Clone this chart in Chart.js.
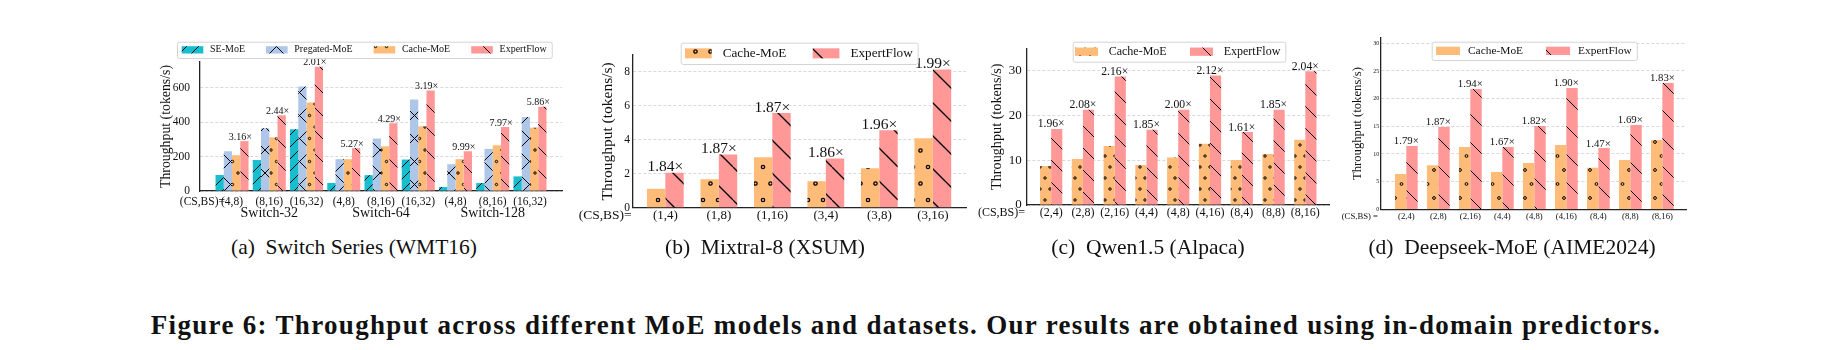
<!DOCTYPE html>
<html>
<head>
<meta charset="utf-8">
<script src="https://cdn.jsdelivr.net/npm/chart.js@4.4.1/dist/chart.umd.min.js"></script>
<style>
  body { margin: 0; background: #fff; width: 1844px; height: 350px; position: relative; overflow: hidden;
         font-family: "Liberation Serif", "Times New Roman", serif; color: #111; }
  canvas { position: absolute; }
  .sub { position: absolute; top: 237px; font-size: 21.5px; line-height: 1; white-space: pre; transform: translateX(-50%); }
  #fig { position: absolute; top: 312px; left: 906px; transform: translateX(-50%); font-weight: bold;
         font-size: 27px; line-height: 1; white-space: nowrap; }
</style>
</head>
<body>
<canvas id="chartA"></canvas>
<canvas id="chartB"></canvas>
<canvas id="chartC"></canvas>
<canvas id="chartD"></canvas>
<div class="sub" style="left:354px">(a)  Switch Series (WMT16)</div>
<div class="sub" style="left:765px">(b)  Mixtral-8 (XSUM)</div>
<div class="sub" style="left:1148px">(c)  Qwen1.5 (Alpaca)</div>
<div class="sub" style="left:1512px">(d)  Deepseek-MoE (AIME2024)</div>
<div id="fig">Figure 6: Throughput across different MoE models and datasets. Our results are obtained using in-domain predictors.</div>
<script>
// ---- data ----
const switchGroups = ['(4,8)', '(8,16)', '(16,32)', '(4,8)', '(8,16)', '(16,32)', '(4,8)', '(8,16)', '(16,32)'];
const switchModels = ['Switch-32', 'Switch-64', 'Switch-128'];
const switchSE = [93, 180, 359, 47, 92, 183, 23, 46, 85];
const switchPregated = [231, 365, 608, 185, 305, 532, 156, 245, 430];
const switchCache = [208, 312, 515, 185, 260, 376, 185, 266, 368];
const switchExpert = [290, 440, 722, 249, 394, 585, 231, 372, 490];
const switchSpeedup = ['3.16×', '2.44×', '2.01×', '5.27×', '4.29×', '3.19×', '9.99×', '7.97×', '5.86×'];

const mixtralGroups = ['(1,4)', '(1,8)', '(1,16)', '(3,4)', '(3,8)', '(3,16)'];
const mixtralCache = [1.12, 1.68, 2.98, 1.56, 2.33, 4.10];
const mixtralExpert = [2.06, 3.14, 5.58, 2.90, 4.57, 8.15];
const mixtralSpeedup = ['1.84×', '1.87×', '1.87×', '1.86×', '1.96×', '1.99×'];

const qwenGroups = ['(2,4)', '(2,8)', '(2,16)', '(4,4)', '(4,8)', '(4,16)', '(8,4)', '(8,8)', '(8,16)'];
const qwenCache = [8.73, 10.3, 13.2, 8.96, 10.6, 13.66, 10.07, 11.4, 14.55];
const qwenExpert = [17.0, 21.3, 28.7, 16.8, 21.3, 28.9, 16.3, 21.3, 29.85];
const qwenSpeedup = ['1.96×', '2.08×', '2.16×', '1.85×', '2.00×', '2.12×', '1.61×', '1.85×', '2.04×'];

const deepseekGroups = ['(2,4)', '(2,8)', '(2,16)', '(4,4)', '(4,8)', '(4,16)', '(8,4)', '(8,8)', '(8,16)'];
const deepseekCache = [6.4, 7.95, 11.27, 6.75, 8.37, 11.63, 7.53, 8.92, 12.53];
const deepseekExpert = [11.45, 14.88, 21.75, 11.27, 15.06, 21.93, 11.08, 15.24, 22.83];
const deepseekSpeedup = ['1.79×', '1.87×', '1.94×', '1.67×', '1.82×', '1.90×', '1.47×', '1.69×', '1.83×'];

const FONT = '"Liberation Serif", "Times New Roman", serif';
const INK = '#111';
const AXIS = '#222';
const C_SE = '#17becf', C_PRE = '#aec7e8', C_CACHE = '#ffbb78', C_EXPERT = '#ff9896';

// hatch pattern like matplotlib's '//', 'x', 'o', '\\'
function hatch(color, kind, p, lw) {
  const w = kind === 'o' ? Math.round(p * 0.46) : Math.round(p);
  const h = Math.round(p);
  const c = document.createElement('canvas');
  c.width = w; c.height = h;
  const g = c.getContext('2d');
  g.fillStyle = color;
  g.fillRect(0, 0, w, h);
  g.strokeStyle = '#000';
  g.lineWidth = lw;
  const line = (x1, y1, x2, y2) => { g.beginPath(); g.moveTo(x1, y1); g.lineTo(x2, y2); g.stroke(); };
  if (kind === '\\' || kind === 'x') for (const k of [-w, 0, w]) line(k, 0, k + w, h);
  if (kind === '/' || kind === 'x') for (const k of [-w, 0, w]) line(k, h, k + w, 0);
  if (kind === 'o') {
    const r = Math.max(1.2, p * 0.05);
    for (const [cx, cy] of [[0, 0], [w, 0], [0, h], [w, h], [w / 2, h / 2]]) {
      g.beginPath(); g.arc(cx, cy, r, 0, Math.PI * 2); g.stroke();
    }
  }
  return g.createPattern(c, 'repeat');
}

function makeChart(s) {
  const canvas = document.getElementById(s.id);
  const [ox, oy, cw, ch] = s.box;
  canvas.width = cw; canvas.height = ch;
  canvas.style.left = ox + 'px'; canvas.style.top = oy + 'px';
  const [aL, aT, aR, aB] = s.area;

  const datasets = s.series.map(se => ({
    label: se.label,
    data: se.values.map((v, i) => ({ x: i, y: v })),
    backgroundColor: hatch(se.color, se.hatch, se.hatch === '/' ? s.hatchP / 2 : s.hatchP, s.hatchLW),
    borderWidth: 0,
    categoryPercentage: s.groupFill,
    barPercentage: 1
  }));

  // speedup labels, (CS,BS)= prefix, model names, framed legend
  const extras = {
    id: 'extras',
    afterDatasetsDraw(chart) {
      const ctx = chart.ctx;
      const last = chart.getDatasetMeta(chart.data.datasets.length - 1);
      ctx.save();
      ctx.fillStyle = INK;
      ctx.font = `${s.label.size}px ${FONT}`;
      ctx.textAlign = 'center';
      ctx.textBaseline = 'alphabetic';
      last.data.forEach((bar, i) => {
        const { x, y, width } = bar.getProps(['x', 'y', 'width'], true);
        ctx.fillText(s.speedup[i], x - width / 2, y - s.label.lift);
      });
      ctx.font = `${s.cs.size}px ${FONT}`;
      ctx.textAlign = 'right';
      ctx.textBaseline = 'middle';
      ctx.fillText(s.cs.text, s.cs.x - ox, s.cs.y - oy);
      if (s.models) {
        const xs = chart.scales.x;
        ctx.font = `${s.models.size}px ${FONT}`;
        ctx.textAlign = 'center';
        s.models.names.forEach((name, k) => {
          ctx.fillText(name, xs.getPixelForValue(k * 3 + 1), s.models.y - oy);
        });
      }
      ctx.restore();
    },
    afterDraw(chart) {
      const L = s.legend;
      const ctx = chart.ctx;
      const items = chart.data.datasets;
      ctx.save();
      ctx.font = `${L.size}px ${FONT}`;
      const widths = items.map(d => ctx.measureText(d.label).width);
      let w = L.pad + L.padR;
      widths.forEach((tw, i) => { w += L.patchW + L.gapText + tw + (i < items.length - 1 ? L.gapItem : 0); });
      const bx = L.x - ox, by = L.y - oy;
      ctx.fillStyle = 'rgba(255,255,255,0.85)';
      ctx.strokeStyle = '#d4d4d4';
      ctx.lineWidth = 1;
      ctx.beginPath();
      if (ctx.roundRect) ctx.roundRect(bx + 0.5, by + 0.5, w, L.h, 2); else ctx.rect(bx + 0.5, by + 0.5, w, L.h);
      ctx.fill();
      ctx.stroke();
      const cy = by + L.h / 2;
      let x = bx + L.pad;
      items.forEach((d, i) => {
        ctx.fillStyle = d.backgroundColor;
        ctx.fillRect(x, cy - L.patchH / 2, L.patchW, L.patchH);
        x += L.patchW + L.gapText;
        ctx.fillStyle = INK;
        ctx.textAlign = 'left';
        ctx.textBaseline = 'middle';
        ctx.fillText(d.label, x, cy);
        x += widths[i] + L.gapItem;
      });
      ctx.restore();
    }
  };

  return new Chart(canvas, {
    type: 'bar',
    data: { datasets },
    options: {
      responsive: false,
      animation: false,
      devicePixelRatio: 1,
      layout: { padding: { left: 0, top: aT - oy, right: ox + cw - aR, bottom: 0 } },
      scales: {
        x: {
          type: 'linear',
          offset: false,
          min: s.xmin,
          max: s.xmax,
          afterFit: sc => { sc.height = oy + ch - aB; },
          afterBuildTicks: sc => { sc.ticks = s.groups.map((_, i) => ({ value: i })); },
          grid: { display: false, drawTicks: false },
          border: { color: AXIS, width: 1.3 },
          ticks: {
            autoSkip: false, maxRotation: 0, padding: s.xTick.pad, color: INK,
            font: { family: FONT, size: s.xTick.size, lineHeight: 1 },
            callback: v => s.groups[v]
          }
        },
        y: {
          min: 0,
          max: s.ymax,
          afterFit: sc => { sc.width = aL - ox; },
          grid: { color: '#cfcfcf', lineWidth: 0.8, drawTicks: false },
          border: { color: AXIS, width: 1.3, dash: [3, 2] },
          ticks: {
            stepSize: s.ystep, includeBounds: false, padding: s.yTick.pad, color: INK,
            font: { family: FONT, size: s.yTick.size, lineHeight: 1 }
          },
          title: {
            display: true, text: 'Throughput (tokens/s)', color: INK,
            font: { family: FONT, size: s.yTitle.size, lineHeight: 1 },
            padding: { top: s.yTitle.pad, bottom: 0 }
          }
        }
      },
      plugins: { legend: { display: false }, tooltip: { enabled: false } }
    },
    plugins: [extras]
  });
}

makeChart({
  id: 'chartA', box: [150, 35, 425, 190], area: [200, 62, 562, 191],
  xmin: -0.86, xmax: 8.86, ymax: 750, ystep: 200,
  groups: switchGroups, speedup: switchSpeedup,
  series: [
    { label: 'SE-MoE', values: switchSE, color: C_SE, hatch: '/' },
    { label: 'Pregated-MoE', values: switchPregated, color: C_PRE, hatch: 'x' },
    { label: 'Cache-MoE', values: switchCache, color: C_CACHE, hatch: 'o' },
    { label: 'ExpertFlow', values: switchExpert, color: C_EXPERT, hatch: '\\' }
  ],
  groupFill: 0.886, hatchP: 23, hatchLW: 1,
  xTick: { size: 11.5, pad: 5.25 }, yTick: { size: 11.5, pad: 10 }, yTitle: { size: 13.8, pad: 9.1 },
  label: { size: 10, lift: 1.5 },
  cs: { text: '(CS,BS)=', x: 225, y: 202, size: 11.5 },
  models: { names: switchModels, size: 14, y: 213 },
  legend: { x: 177, y: 41.7, h: 16.3, patchW: 21.6, patchH: 7.3, pad: 4.7, gapText: 6.7, gapItem: 21, padR: 5, size: 10 }
});

makeChart({
  id: 'chartB', box: [568, 35, 412, 193], area: [632.7, 55, 966, 207.7],
  xmin: -0.61, xmax: 5.62, ymax: 9, ystep: 2,
  groups: mixtralGroups, speedup: mixtralSpeedup,
  series: [
    { label: 'Cache-MoE', values: mixtralCache, color: C_CACHE, hatch: 'o' },
    { label: 'ExpertFlow', values: mixtralExpert, color: C_EXPERT, hatch: '\\' }
  ],
  groupFill: 0.687, hatchP: 33, hatchLW: 1.3,
  xTick: { size: 13, pad: 1.5 }, yTick: { size: 11.5, pad: 2.7 }, yTitle: { size: 15.5, pad: 32.55 },
  label: { size: 15.5, lift: 1.5 },
  cs: { text: '(CS,BS)=', x: 631.7, y: 215.7, size: 13.5 },
  legend: { x: 680.7, y: 42.7, h: 21.3, patchW: 26.7, patchH: 10, pad: 4.3, gapText: 11, gapItem: 26.3, padR: 5, size: 13.2 }
});

makeChart({
  id: 'chartC', box: [970, 35, 375, 193], area: [1026.7, 48.3, 1329.8, 205],
  xmin: -0.77, xmax: 8.77, ymax: 35, ystep: 10,
  groups: qwenGroups, speedup: qwenSpeedup,
  series: [
    { label: 'Cache-MoE', values: qwenCache, color: C_CACHE, hatch: 'o' },
    { label: 'ExpertFlow', values: qwenExpert, color: C_EXPERT, hatch: '\\' }
  ],
  groupFill: 0.70, hatchP: 22, hatchLW: 1,
  xTick: { size: 12, pad: 2.3 }, yTick: { size: 13, pad: 5 }, yTitle: { size: 14.2, pad: 20.4 },
  label: { size: 11.7, lift: 1.5 },
  cs: { text: '(CS,BS)=', x: 1025, y: 213.3, size: 12 },
  legend: { x: 1072.7, y: 41.7, h: 20, patchW: 23, patchH: 8.3, pad: 2.3, gapText: 10.7, gapItem: 23.3, padR: 5, size: 12 }
});

makeChart({
  id: 'chartD', box: [1330, 30, 370, 198], area: [1380.7, 37.8, 1686.7, 209.3],
  xmin: -0.8, xmax: 8.76, ymax: 31, ystep: 5,
  groups: deepseekGroups, speedup: deepseekSpeedup,
  series: [
    { label: 'Cache-MoE', values: deepseekCache, color: C_CACHE, hatch: 'o' },
    { label: 'ExpertFlow', values: deepseekExpert, color: C_EXPERT, hatch: '\\' }
  ],
  groupFill: 0.71, hatchP: 28, hatchLW: 1,
  xTick: { size: 8.7, pad: 2.85 }, yTick: { size: 6, pad: 1.5 }, yTitle: { size: 12.7, pad: 21.15 },
  label: { size: 10.8, lift: 1.5 },
  cs: { text: '(CS,BS) =', x: 1378, y: 216.5, size: 8.7 },
  legend: { x: 1431.7, y: 41.7, h: 18.3, patchW: 24, patchH: 8.3, pad: 4.3, gapText: 8, gapItem: 23, padR: 5, size: 11.4 }
});

// stretch the figure caption to the span it covers in the reference
const fig = document.getElementById('fig');
const figTarget = 1510;
fig.style.letterSpacing = ((figTarget - fig.offsetWidth) / fig.textContent.length) + 'px';
</script>
</body>
</html>
